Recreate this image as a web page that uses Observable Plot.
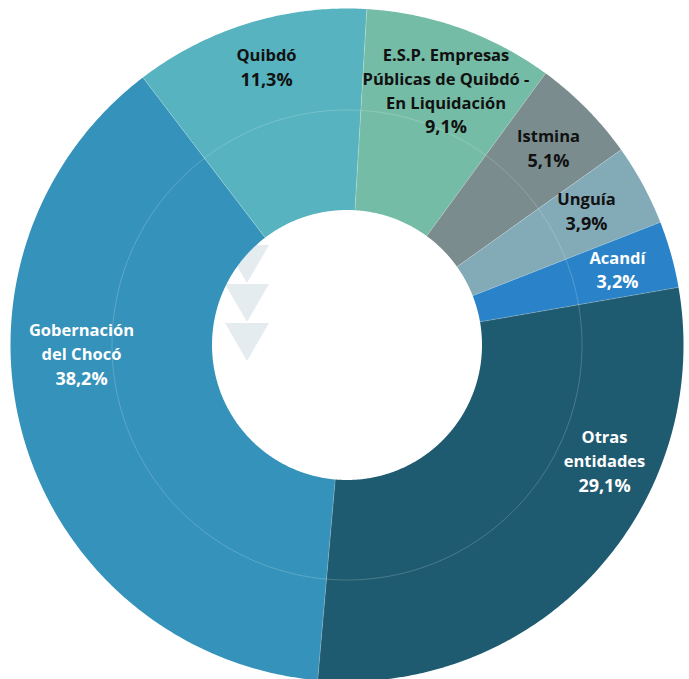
<!DOCTYPE html>
<html>
<head>
<meta charset="utf-8">
<script src="https://cdn.jsdelivr.net/npm/d3@7"></script>
<script src="https://cdn.jsdelivr.net/npm/@observablehq/plot@0.6"></script>
<style>html,body{margin:0;padding:0;background:#fff;overflow:hidden}svg{display:block}</style>
</head>
<body>
<div id="chart"></div>
<script>
const categories = ["Otras entidades","Gobernación del Chocó","Quibdó","E.S.P. Empresas Públicas de Quibdó - En Liquidación","Istmina","Unguía","Acandí"];
const shares = [29.1,38.2,11.3,9.1,5.1,3.9,3.2];
const nameLines = [["Otras","entidades"],["Gobernación","del Chocó"],["Quibdó"],["E.S.P. Empresas","Públicas de Quibdó -","En Liquidación"],["Istmina"],["Unguía"],["Acandí"]];
const shareLabels = ["29,1%","38,2%","11,3%","9,1%","5,1%","3,9%","3,2%"];
const sliceColors = ["#1f5b70","#3592bb","#56b3bf","#75bca6","#7a8c8e","#83abb7","#2a83c8"];
const labelColors = ["#fff","#fff","#111","#111","#111","#111","#fff"];

const clockwise = [1,2,3,4,5,6,0];
const total = d3.sum(shares);
const startDeg = 185;
const W = 689, H = 679, cx = 346.5, cy = 344.5;
const rOuter = 336.5, rInner = 135, rRing = 235;
const pt = (r,deg)=>{const a=deg*Math.PI/180;return {x:r*Math.sin(a),y:r*Math.cos(a)};};

let angle = startDeg;
const polys = [], seams = [];
for (const i of clockwise) {
  const a0 = angle, a1 = angle + shares[i]/total*360; angle = a1;
  const n = Math.ceil((a1-a0)*2);
  const outer = d3.range(n+1).map(k=>pt(rOuter,a0+(a1-a0)*k/n));
  const inner = d3.range(n+1).map(k=>pt(rInner,a1-(a1-a0)*k/n));
  for (const p of [...outer,...inner,outer[0]]) polys.push({...p,name:categories[i]});
  seams.push({...pt(rInner,a0),k:i},{...pt(rOuter,a0),k:i});
}
const ring = d3.range(0,361,1).map(d=>pt(rRing,d));

// label anchors, in pixels from the chart's centre (y up)
const labelPlace = [[257.5,-117],[-265.5,-10],[-80.5,277],[99,253.5],[201.5,196],[239.5,133],[270.5,74.5]];
const lineGap = 24;
const labelRows = categories.flatMap((c,i)=>{
  const rows = [...nameLines[i],shareLabels[i]];
  return rows.map((text,j)=>({
    x:labelPlace[i][0],
    y:labelPlace[i][1]-(j-(rows.length-1)/2)*lineGap,
    text,color:labelColors[i],isShare:j===rows.length-1
  }));
});

const arrowRows = [{x:-100,y:3},{x:-100,y:42},{x:-100,y:81}];
const triangle = {draw(ctx,size){const r=Math.sqrt(size/Math.PI);ctx.moveTo(-r,-r*0.86);ctx.lineTo(r,-r*0.86);ctx.lineTo(0,r*0.86);ctx.closePath();}};

const textStyle = {x:"x",y:"y",text:"text",fill:"color",fontFamily:"Open Sans",fontWeight:700,textAnchor:"middle"};
const chart = Plot.plot({
  width:W,height:H,margin:0,
  style:{background:"#fff"},
  x:{domain:[-cx,W-cx],range:[0,W],axis:null},
  y:{domain:[cy-H,cy],range:[H,0],axis:null},
  color:{domain:categories,range:sliceColors},
  marks:[
    Plot.dot(arrowRows,{x:"x",y:"y",r:22,symbol:triangle,fill:"#e5ecef",stroke:"none"}),
    Plot.line(polys,{x:"x",y:"y",z:"name",fill:"name",stroke:"none"}),
    Plot.line(seams,{x:"x",y:"y",z:"k",stroke:"#fff",strokeOpacity:0.45,strokeWidth:0.5}),
    Plot.line(ring,{x:"x",y:"y",stroke:"#fff",strokeOpacity:0.38,strokeWidth:0.5}),
    Plot.text(labelRows.filter(d=>!d.isShare),{...textStyle,fontSize:16.5}),
    Plot.text(labelRows.filter(d=>d.isShare),{...textStyle,fontSize:18})
  ]
});
document.getElementById("chart").append(chart);
</script>
</body>
</html>
